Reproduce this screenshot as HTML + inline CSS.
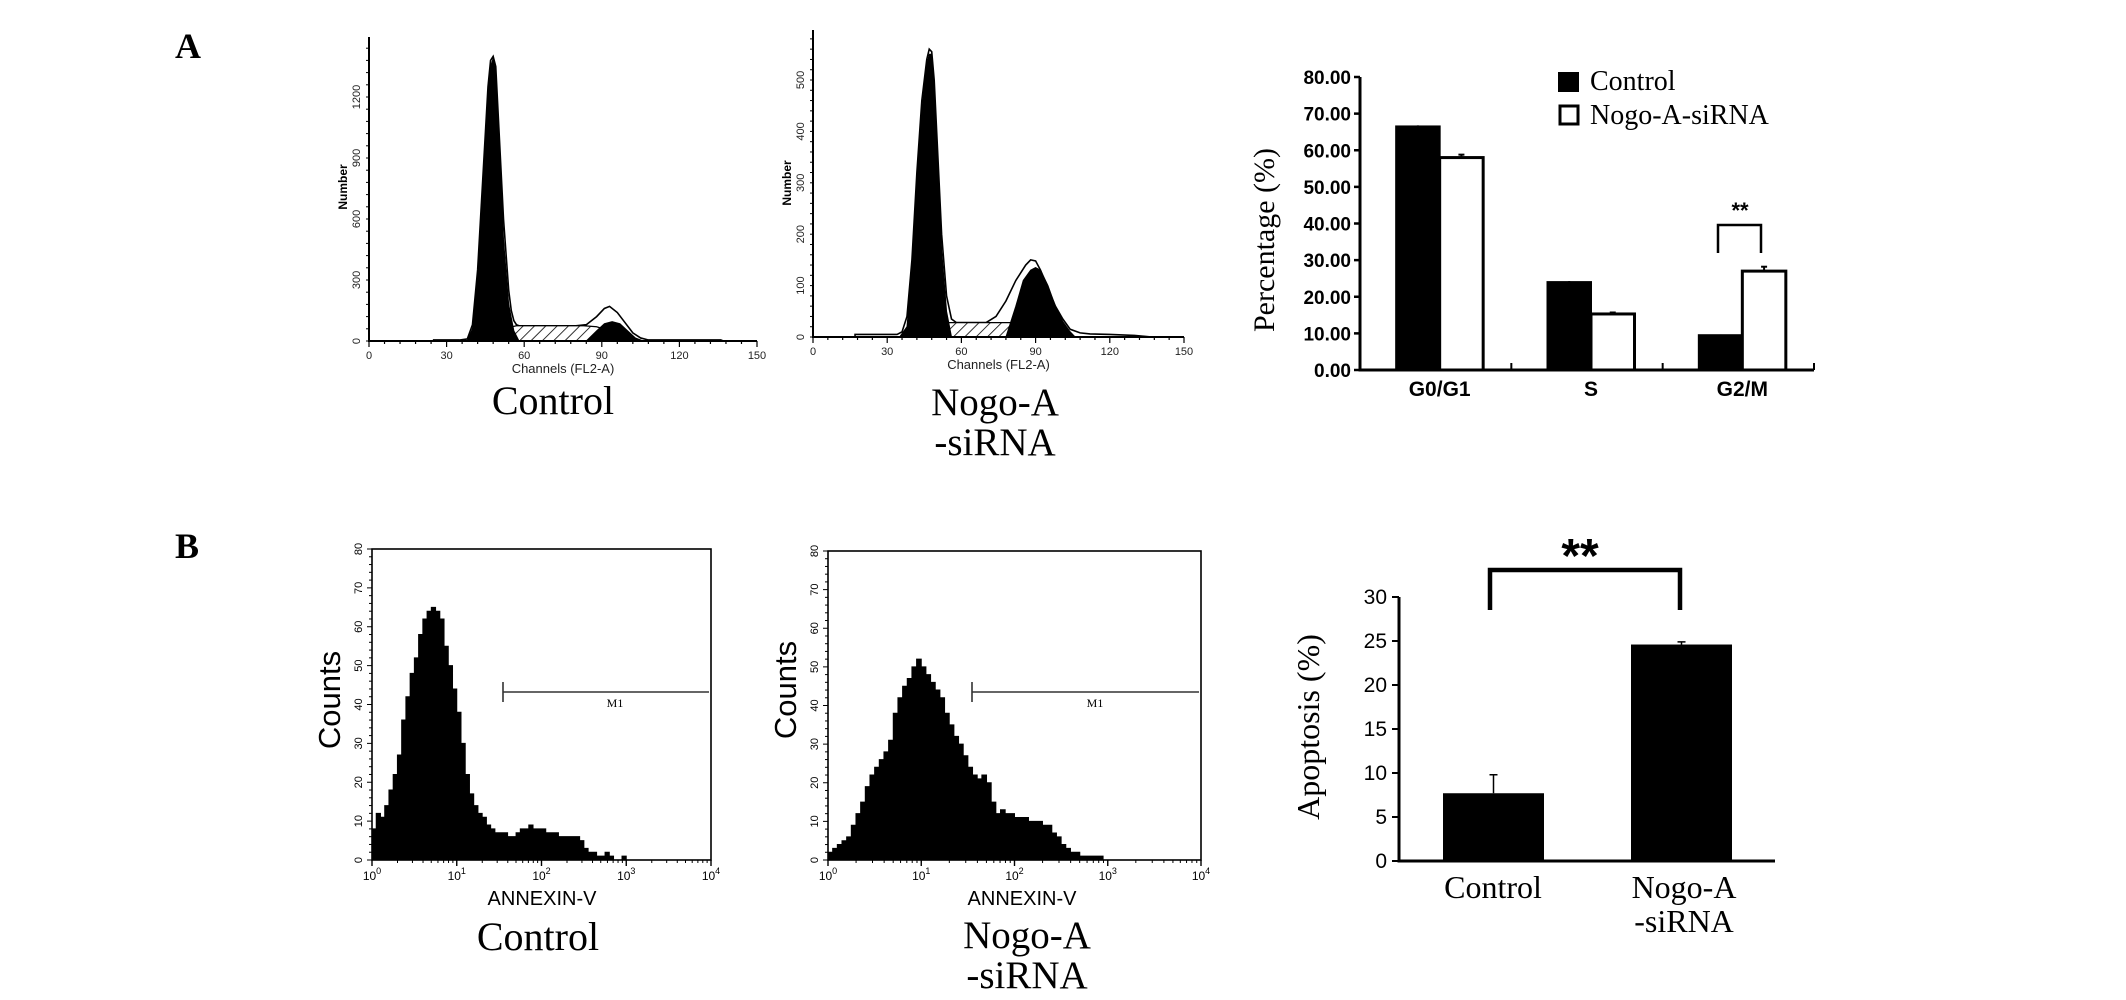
<!DOCTYPE html>
<html><head><meta charset="utf-8"><style>
html,body{margin:0;padding:0;background:#fff;}
svg{display:block;}
</style></head><body>
<svg id="fig" width="2126" height="1000" viewBox="0 0 2126 1000" xmlns="http://www.w3.org/2000/svg">
<defs>
<pattern id="hatch" patternUnits="userSpaceOnUse" width="8" height="8" patternTransform="rotate(45)">
<rect width="8" height="8" fill="#fff"/><line x1="0" y1="0" x2="0" y2="8" stroke="#000" stroke-width="1.6"/>
</pattern>
</defs>
<text x="188" y="58" font-family="Liberation Serif, serif" font-weight="bold" font-size="36" text-anchor="middle">A</text>
<text x="187" y="558" font-family="Liberation Serif, serif" font-weight="bold" font-size="36" text-anchor="middle">B</text>
<g id="root"></g>
</svg>
<script>
// ---------- Data ----------
const ctrlOutlineCh = [25,28,35,38,40,42,44,46,47,48,49,50,52,54,55,56,57,58,60,70,80,84,88,91,93,96,99,102,105,108,115,136,137];
const ctrlOutlineVal = [5,5,5,10,80,350,800,1250,1380,1400,1350,1100,600,250,150,100,80,75,75,75,75,80,120,160,170,140,90,40,15,5,5,5,0];
const ctrlG1Ch = [38,40,42,44,46,47,48,49,50,52,54,56,58];
const ctrlG1Val = [0,60,300,750,1200,1350,1390,1320,1050,500,180,50,0];
const ctrlSCh = [44,52,57,83,88,98,104];
const ctrlSVal = [0,60,75,75,70,30,0];
const ctrlG2Ch = [84,88,91,94,97,100,103,106];
const ctrlG2Val = [0,50,85,95,85,50,15,0];
const ctrlYTicks = [0,300,600,900,1200];

const nogoOutlineCh = [17,34,36,38,40,42,44,46,47,48,49,50,52,54,56,58,62,70,74,78,82,86,88,90,92,95,98,101,104,108,112,120,130,137];
const nogoOutlineVal = [5,5,10,40,150,320,460,540,560,555,500,400,200,80,35,28,28,28,40,70,110,140,150,148,130,95,60,35,15,8,6,5,3,0];
const nogoG1Ch = [35,38,40,42,44,46,47,48,49,50,52,54,56];
const nogoG1Val = [0,20,130,300,440,530,550,550,490,380,170,50,0];
const nogoSCh = [44,50,54,76,80,90,100,104];
const nogoSVal = [0,20,28,28,28,15,5,0];
const nogoG2Ch = [78,82,85,88,90,92,95,98,101,104,106];
const nogoG2Val = [0,60,110,130,135,130,100,60,30,10,0];
const nogoYTicks = [0,100,200,300,400,500];
const channelTicks = [0,30,60,90,120,150];

const phases = ["G0/G1","S","G2/M"];
const controlPct = [66.5,24.0,9.5];
const nogoPct = [58.0,15.3,27.0];
const controlErr = [0.3,0.3,0.2];
const nogoErr = [0.8,0.4,1.2];
const pctTicks = [0,10,20,30,40,50,60,70,80];

const annexCtrl = [8,12,11,14,18,22,27,36,42,48,52,58,62,64,65,64,62,55,50,44,38,30,22,17,14,12,11,9,8,7,7,7,6,6,7,8,8,9,8,8,8,7,7,7,6,6,6,6,6,5,3,2,2,1,1,2,1,0,0,1,0];
const annexNogo = [2,3,4,5,6,9,12,15,19,22,24,26,28,31,38,42,45,47,50,52,50,48,46,44,42,38,35,32,30,27,24,22,21,22,20,15,12,13,12,12,11,11,11,10,10,10,9,9,7,6,4,3,2,2,1,1,1,1,1,0,0];
const countTicks = [0,10,20,30,40,50,60,70,80];
const decadeTicks = [0,1,2,3,4];

const groups = ["Control","Nogo-A"];
const apoptosis = [7.7,24.6];
const apoptosisErr = [2.1,0.3];
const apoTicks = [0,5,10,15,20,25,30];

// ---------- Helpers ----------
const NS = "http://www.w3.org/2000/svg";
const root = document.getElementById("root");
function mk(tag, attrs, parent){
  const e = document.createElementNS(NS, tag);
  for (const k in attrs) e.setAttribute(k, attrs[k]);
  (parent||root).appendChild(e);
  return e;
}
function txt(x,y,s,size,opts,parent){
  const o = Object.assign({x:x,y:y,"font-size":size,"font-family":"Liberation Sans, sans-serif"}, opts||{});
  const e = mk("text", o, parent);
  e.textContent = s;
  return e;
}

// ---------- DNA histogram ----------
function dnaPlot(cfg){
  const g = mk("g", {});
  
  
  const sx = c => cfg.x0 + (c/150)*(cfg.x1-cfg.x0);
  const sy = v => cfg.y0 - v*cfg.k;
  function poly(ch, val){
    let d = "M"+sx(ch[0])+","+sy(0);
    for (let i=0;i<ch.length;i++) d += " L"+sx(ch[i])+","+sy(val[i]);
    d += " L"+sx(ch[ch.length-1])+","+sy(0)+" Z";
    return d;
  }
  const outline = mk("path", {d:poly(cfg.oc,cfg.ov), fill:"#fff", stroke:"#000", "stroke-width":1.6}, g);
  
  
  const s = mk("path", {d:poly(cfg.sc,cfg.sv), fill:"url(#hatch)", stroke:"#000", "stroke-width":1.2}, g);
  
  
  const g1 = mk("path", {d:poly(cfg.g1c,cfg.g1v), fill:"#000", stroke:"#000", "stroke-width":1}, g);
  
  
  const g2 = mk("path", {d:poly(cfg.g2c,cfg.g2v), fill:"#000", stroke:"#000", "stroke-width":1}, g);
  
  
  const ax = mk("path", {d:"M"+cfg.x0+","+cfg.top+" L"+cfg.x0+","+cfg.y0+" L"+cfg.x1+","+cfg.y0, fill:"none", stroke:"#000", "stroke-width":2}, g);
  
  
  for (let c=0;c<=150;c+=6){
    const big = c%30===0;
    mk("line",{x1:sx(c),x2:sx(c),y1:cfg.y0,y2:cfg.y0+(big?6:3),stroke:"#000","stroke-width":1.2},g);
  }
  channelTicks.forEach(c=>{
    const t = txt(sx(c), cfg.y0+18, String(c), 11, {"text-anchor":"middle", fill:"#222"}, g);
    
    
  });
  const step = cfg.yt[1]/5;
  for (let v=0; sy(v)>=cfg.top; v+=step){
    mk("line",{x1:cfg.x0-3,x2:cfg.x0,y1:sy(v),y2:sy(v),stroke:"#000","stroke-width":1},g);
  }
  cfg.yt.forEach(v=>{
    const t = txt(0,0,String(v),11,{"text-anchor":"middle",fill:"#222",transform:"translate("+(cfg.x0-9)+","+sy(v)+") rotate(-90)"},g);
    
    
  });
  const yl = txt(0,0,"Number",12,{"text-anchor":"middle","font-weight":"bold",transform:"translate("+(cfg.x0-22)+","+cfg.ymid+") rotate(-90)"},g);
  
  
  const xl = txt((cfg.x0+cfg.x1)/2, cfg.y0+32, "Channels (FL2-A)", 13, {"text-anchor":"middle", fill:"#222"}, g);
  
  
}
dnaPlot({name:"control-dna-histogram",x0:369,x1:757,y0:341,top:37,k:(341-97)/1200,ymid:187,
  oc:ctrlOutlineCh,ov:ctrlOutlineVal,g1c:ctrlG1Ch,g1v:ctrlG1Val,sc:ctrlSCh,sv:ctrlSVal,g2c:ctrlG2Ch,g2v:ctrlG2Val,yt:ctrlYTicks});
dnaPlot({name:"nogo-dna-histogram",x0:813,x1:1184,y0:337,top:30,k:(337-80)/500,ymid:183,
  oc:nogoOutlineCh,ov:nogoOutlineVal,g1c:nogoG1Ch,g1v:nogoG1Val,sc:nogoSCh,sv:nogoSVal,g2c:nogoG2Ch,g2v:nogoG2Val,yt:nogoYTicks});

function serifLabel(x,y,s,size,name){
  const t = txt(x,y,s,size,{"text-anchor":"middle","font-family":"Liberation Serif, serif"});
  
  
}
serifLabel(553,414,"Control",40,"control-dna-caption");
serifLabel(995,415,"Nogo-A",39,"nogo-dna-caption-line1");
serifLabel(995,455,"-siRNA",39,"nogo-dna-caption-line2");

// ---------- Cell cycle bar chart ----------
(function(){
  const X0=1360, X1=1814, Y0=370, Y80=77;
  const sy = v => Y0 - v*(Y0-Y80)/80;
  const gw = (X1-X0)/3, bw = 43.5;
  const g = mk("g",{});
  
  
  phases.forEach((p,i)=>{
    const c = X0 + gw*(i+0.5) + 4;
    const b1 = mk("rect",{x:c-bw,y:sy(controlPct[i]),width:bw,height:Y0-sy(controlPct[i]),fill:"#000",stroke:"#000","stroke-width":2},g);
    
    
    mk("line",{x1:c-bw/2,x2:c-bw/2,y1:sy(controlPct[i]),y2:sy(controlPct[i]+controlErr[i]),stroke:"#000","stroke-width":2},g);
    const b2 = mk("rect",{x:c,y:sy(nogoPct[i]),width:bw,height:Y0-sy(nogoPct[i]),fill:"#fff",stroke:"#000","stroke-width":3},g);
    
    
    const ey = sy(nogoPct[i]+nogoErr[i]);
    mk("line",{x1:c+bw/2,x2:c+bw/2,y1:sy(nogoPct[i]),y2:ey,stroke:"#000","stroke-width":2},g);
    mk("line",{x1:c+bw/2-3,x2:c+bw/2+3,y1:ey,y2:ey,stroke:"#000","stroke-width":2},g);
    const t = txt(c, 396, p, 21, {"text-anchor":"middle","font-weight":"bold"}, g);
    
    
    if (i>0) mk("line",{x1:X0+gw*i,x2:X0+gw*i,y1:Y0,y2:Y0-7,stroke:"#000","stroke-width":2},g);
  });
  mk("line",{x1:X1,x2:X1,y1:Y0,y2:Y0-7,stroke:"#000","stroke-width":2},g);
  const ax = mk("path",{d:"M"+X0+","+sy(80)+" L"+X0+","+Y0+" L"+X1+","+Y0,fill:"none",stroke:"#000","stroke-width":3},g);
  
  
  pctTicks.forEach(v=>{
    mk("line",{x1:X0-6,x2:X0,y1:sy(v),y2:sy(v),stroke:"#000","stroke-width":2.5},g);
    const t = txt(X0-9, sy(v)+7, v.toFixed(2), 19, {"text-anchor":"end","font-weight":"bold"}, g);
    
    
  });
  const yt = txt(0,0,"Percentage (%)",30,{"text-anchor":"middle","font-family":"Liberation Serif, serif",transform:"translate(1274,240) rotate(-90)"},g);
  
  
  const l1 = mk("rect",{x:1559,y:73,width:19,height:18,fill:"#000",stroke:"#000","stroke-width":2},g);
  
  
  const lt1 = txt(1590,90,"Control",28,{"font-family":"Liberation Serif, serif"},g);
  
  
  const l2 = mk("rect",{x:1560,y:106,width:18,height:18,fill:"#fff",stroke:"#000","stroke-width":3},g);
  
  
  const lt2 = txt(1590,124,"Nogo-A-siRNA",28,{"font-family":"Liberation Serif, serif"},g);
  
  
  const br = mk("path",{d:"M1718,253 L1718,225 L1761,225 L1761,253",fill:"none",stroke:"#000","stroke-width":2.5},g);
  
  
  const st = txt(1740,218,"**",22,{"text-anchor":"middle","font-weight":"bold"},g);
  
  
})();

// ---------- Annexin histograms ----------
function annexPlot(cfg){
  const g = mk("g",{});
  
  
  const sx = l => cfg.x0 + (l/4)*(cfg.x1-cfg.x0);
  const sy = v => cfg.y0 - v*(cfg.y0-cfg.top)/80;
  const binW = 0.05;
  let d = "M"+sx(0)+","+sy(0);
  cfg.vals.forEach((v,i)=>{
    d += " L"+sx(i*binW)+","+sy(v)+" L"+sx((i+1)*binW)+","+sy(v);
  });
  d += " L"+sx(cfg.vals.length*binW)+","+sy(0)+" Z";
  const h = mk("path",{d:d,fill:"#000",stroke:"#000","stroke-width":1},g);
  
  
  const box = mk("rect",{x:cfg.x0,y:cfg.top,width:cfg.x1-cfg.x0,height:cfg.y0-cfg.top,fill:"none",stroke:"#000","stroke-width":1.6},g);
  
  
  decadeTicks.forEach(k=>{
    mk("line",{x1:sx(k),x2:sx(k),y1:cfg.y0,y2:cfg.y0+6,stroke:"#000","stroke-width":1.4},g);
    if (k<4) for (let m=2;m<10;m++){
      const xx = sx(k+Math.log10(m));
      mk("line",{x1:xx,x2:xx,y1:cfg.y0,y2:cfg.y0+3,stroke:"#000","stroke-width":1},g);
    }
    const t = mk("text",{x:sx(k),y:cfg.y0+20,"font-size":12,"text-anchor":"middle","font-family":"Liberation Sans, sans-serif"},g);
    
    
    t.textContent = "10";
    const sup = mk("tspan",{dy:-6,"font-size":9},t);
    sup.textContent = String(k);
  });
  for (let v=0; v<=80; v+=2){
    mk("line",{x1:cfg.x0-(v%10===0?5:3),x2:cfg.x0,y1:sy(v),y2:sy(v),stroke:"#000","stroke-width":1},g);
  }
  countTicks.forEach(v=>{
    const t = txt(0,0,String(v),11,{"text-anchor":"middle",transform:"translate("+(cfg.x0-10)+","+sy(v)+") rotate(-90)"},g);
    
    
  });
  const yl = txt(0,0,"Counts",31,{"text-anchor":"middle",transform:"translate("+(cfg.x0-32)+","+cfg.ymid+") rotate(-90)"},g);
  
  
  const xl = txt(cfg.xmid,905,"ANNEXIN-V",20,{"text-anchor":"middle"},g);
  
  
  const m = mk("path",{d:"M"+cfg.mx+",682 L"+cfg.mx+",702 M"+cfg.mx+",692 L"+(cfg.x1-2)+",692",fill:"none",stroke:"#333","stroke-width":1.6},g);
  
  
  const mt = txt(cfg.m1x,707,"M1",12,{"text-anchor":"middle","font-family":"Liberation Serif, serif"},g);
  
  
}
annexPlot({name:"control-annexin-histogram",x0:372,x1:711,y0:860,top:549,vals:annexCtrl,ymid:700,xmid:542,mx:503,m1x:615});
annexPlot({name:"nogo-annexin-histogram",x0:828,x1:1201,y0:860,top:551,vals:annexNogo,ymid:690,xmid:1022,mx:972,m1x:1095});
serifLabel(538,950,"Control",40,"control-annexin-caption");
serifLabel(1027,948,"Nogo-A",39,"nogo-annexin-caption-line1");
serifLabel(1027,988,"-siRNA",39,"nogo-annexin-caption-line2");

// ---------- Apoptosis bar chart ----------
(function(){
  const X0=1399, X1=1775, Y0=861, Y30=597;
  const sy = v => Y0 - v*(Y0-Y30)/30;
  const centers = [1493.5,1681.5], bw = 101;
  const g = mk("g",{});
  
  
  groups.forEach((name,i)=>{
    const b = mk("rect",{x:centers[i]-bw/2,y:sy(apoptosis[i]),width:bw,height:Y0-sy(apoptosis[i]),fill:"#000"},g);
    
    
    const ey = sy(apoptosis[i]+apoptosisErr[i]);
    mk("line",{x1:centers[i],x2:centers[i],y1:sy(apoptosis[i]),y2:ey,stroke:"#000","stroke-width":1.5},g);
    mk("line",{x1:centers[i]-4,x2:centers[i]+4,y1:ey,y2:ey,stroke:"#000","stroke-width":1.5},g);
  });
  const ax = mk("path",{d:"M"+X0+","+sy(30)+" L"+X0+","+Y0+" L"+X1+","+Y0,fill:"none",stroke:"#000","stroke-width":3},g);
  
  
  apoTicks.forEach(v=>{
    mk("line",{x1:X0-7,x2:X0,y1:sy(v),y2:sy(v),stroke:"#000","stroke-width":2},g);
    const t = txt(X0-12, sy(v)+7, String(v), 21, {"text-anchor":"end"}, g);
    
    
  });
  const yt = txt(0,0,"Apoptosis (%)",32,{"text-anchor":"middle","font-family":"Liberation Serif, serif",transform:"translate(1319,727) rotate(-90)"},g);
  
  
  const c1 = txt(1493,898,"Control",32,{"text-anchor":"middle","font-family":"Liberation Serif, serif"},g);
  
  
  const c2 = txt(1684,898,"Nogo-A",32,{"text-anchor":"middle","font-family":"Liberation Serif, serif"},g);
  
  
  const c3 = txt(1684,932,"-siRNA",32,{"text-anchor":"middle","font-family":"Liberation Serif, serif"},g);
  
  
  const br = mk("path",{d:"M1490,610 L1490,570 L1680,570 L1680,610",fill:"none",stroke:"#000","stroke-width":4.5},g);
  
  
  const st = txt(1580,572,"**",48,{"text-anchor":"middle","font-weight":"bold"},g);
  
  
})();
</script>
</body></html>
